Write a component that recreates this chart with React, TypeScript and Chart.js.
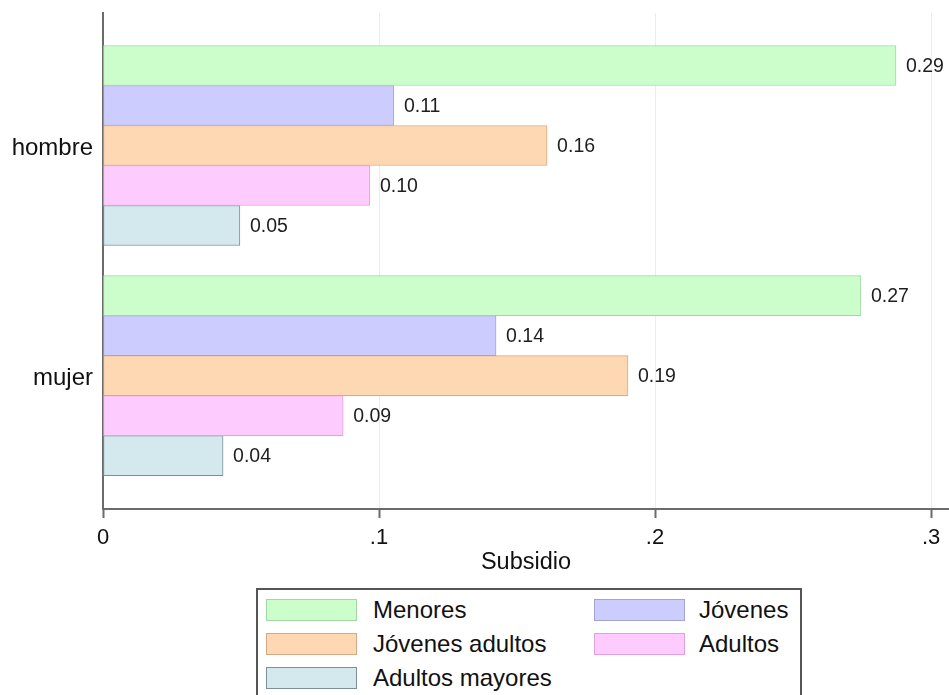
import React, { useEffect, useRef } from 'react';
import { Chart, registerables } from 'chart.js';

Chart.register(...registerables);

const categories = ['hombre', 'mujer'];
const seriesNames = ['Menores', 'Jóvenes', 'Jóvenes adultos', 'Adultos', 'Adultos mayores'];
const menores = [0.2873, 0.2746];
const jovenes = [0.1054, 0.1424];
const jovenesAdultos = [0.1609, 0.1902];
const adultos = [0.0967, 0.087];
const adultosMayores = [0.0496, 0.0435];
const seriesValues = [menores, jovenes, jovenesAdultos, adultos, adultosMayores];
const xTickValues = [0, 0.1, 0.2, 0.3];
const xTickLabels = ['0', '.1', '.2', '.3'];
const xTitle = 'Subsidio';

const fillColors = ['#ccfecc', '#cccdfe', '#fed8b2', '#fecbfe', '#d3e9ee'];
const borderColors = ['#a2d6a2', '#a2a2d6', '#d6a985', '#dea2de', '#7a9096'];

const FONT = '"Liberation Sans", Arial, sans-serif';
const AXIS = '#6b6b6b';

const valueLabels = {
  id: 'valueLabels',
  afterDatasetsDraw(chart: any) {
    const ctx = chart.ctx;
    ctx.save();
    ctx.font = `19.5px ${FONT}`;
    ctx.fillStyle = '#1e1e1e';
    ctx.textBaseline = 'middle';
    ctx.textAlign = 'left';
    chart.data.datasets.forEach((_ds: any, di: number) => {
      const meta = chart.getDatasetMeta(di);
      meta.data.forEach((el: any, i: number) => {
        const v = seriesValues[di][i];
        ctx.fillText(v.toFixed(2), el.x + 10, el.y + 1);
      });
    });
    ctx.restore();
  },
};

export default function App() {
  const ref = useRef<HTMLCanvasElement | null>(null);

  useEffect(() => {
    if (!ref.current) return;
    const chart = new Chart(ref.current, {
      type: 'bar',
      data: {
        datasets: seriesNames.map((name, di) => ({
          label: name,
          data: categories.map((_, i) => ({ x: seriesValues[di][i], y: i })),
          backgroundColor: fillColors[di],
          borderColor: borderColors[di],
          borderWidth: 1,
          borderSkipped: false,
          barThickness: 40,
        })),
      },
      options: {
        indexAxis: 'y',
        animation: false,
        responsive: false,
        layout: { padding: { top: 13, right: 0, bottom: 116, left: 0 } },
        plugins: { legend: { display: false }, tooltip: { enabled: false } },
        scales: {
          x: {
            type: 'linear',
            min: 0,
            max: 0.3065,
            afterBuildTicks: (s: any) => {
              s.ticks = xTickValues.map((v) => ({ value: v }));
            },
            afterFit: (s: any) => {
              s.height = 70;
            },
            ticks: {
              callback: (_v: any, i: number) => xTickLabels[i],
              font: { family: FONT, size: 22 },
              color: '#111',
              padding: 7,
              maxRotation: 0,
              autoSkip: false,
            },
            grid: {
              color: '#e7eef0',
              lineWidth: 1,
              tickColor: AXIS,
              tickLength: 9,
              tickWidth: 2,
            },
            border: { color: AXIS, width: 2 },
            title: {
              display: true,
              text: xTitle,
              font: { family: FONT, size: 23.5 },
              color: '#111',
              padding: { top: 0, bottom: 2 },
            },
          },
          y: {
            type: 'linear',
            reverse: true,
            offset: false,
            min: -0.576,
            max: 1.58,
            afterBuildTicks: (s: any) => {
              s.ticks = categories.map((_, i) => ({ value: i }));
            },
            afterFit: (s: any) => {
              s.width = 103;
              s.paddingTop = 0;
              s.paddingBottom = 0;
            },
            ticks: {
              callback: (v: any) => categories[v as number],
              font: { family: FONT, size: 24 },
              color: '#111',
              padding: 10,
              labelOffset: 3,
              autoSkip: false,
            },
            grid: { display: false, drawTicks: false, offset: false },
            border: { color: AXIS, width: 2 },
          },
        },
      } as any,
      plugins: [valueLabels],
    });
    return () => chart.destroy();
  }, []);

  const legendRows = [0, 1, 2];
  return (
    <div style={{ position: 'fixed', left: 0, top: 0, width: 949, height: 695, background: '#fff', overflow: 'hidden' }}>
      <canvas ref={ref} width={949} height={695} style={{ display: 'block' }} />
      <div
        style={{
          position: 'absolute',
          left: 256,
          top: 588,
          width: 546,
          height: 130,
          border: '2px solid #555',
          boxSizing: 'border-box',
          background: '#fff',
        }}
      >
        {seriesNames.map((name, i) => {
          const col = i % 2;
          const row = Math.floor(i / 2);
          return (
            <div
              key={name}
              style={{
                position: 'absolute',
                left: col === 0 ? 8 : 336,
                top: 9 + legendRows[row] * 34,
                height: 22,
                display: 'flex',
                alignItems: 'center',
                whiteSpace: 'nowrap',
              }}
            >
              <div
                style={{
                  width: 91,
                  height: 22,
                  boxSizing: 'border-box',
                  border: `1px solid ${borderColors[i]}`,
                  background: fillColors[i],
                }}
              />
              <span
                style={{
                  marginLeft: col === 0 ? 16 : 14,
                  font: `24px ${FONT}`,
                  lineHeight: '22px',
                  color: '#111',
                }}
              >
                {name}
              </span>
            </div>
          );
        })}
      </div>
    </div>
  );
}
